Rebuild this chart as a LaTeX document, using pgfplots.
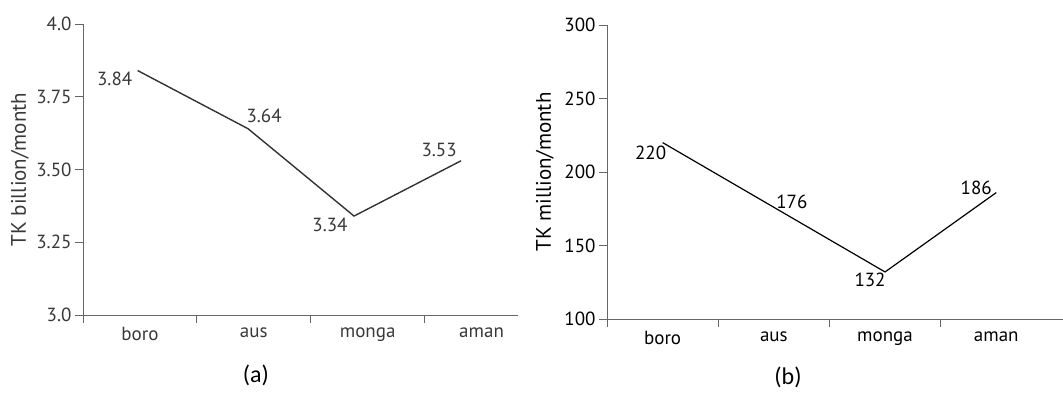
\documentclass[border=0pt]{standalone}
\usepackage{pgfplots}
\pgfplotsset{compat=1.18}
\usepackage{fontspec}
\setmainfont{PT Sans}
\newfontfamily\capfont{Carlito}
\definecolor{axgray}{HTML}{666666}
\definecolor{linegray}{HTML}{333333}
\definecolor{txtgray}{HTML}{383838}
\begin{document}
\begin{tikzpicture}
\useasboundingbox (0,0) rectangle (1063pt,392pt);
\pgfplotsset{
  common/.style={
    scale only axis,
    clip=false,
    axis lines=left,
    axis line style={-, draw=axgray, line width=0.9pt},
    tick align=outside,
    major tick length=8pt,
    minor tick length=8pt,
    xtick={1,2,3,4},
    xticklabels={boro,aus,monga,aman},
    xtick style={draw=none},
    minor xtick={0.5,1.5,2.5,3.5},
    minor x tick style={draw=axgray, line width=0.9pt},
    ytick style={draw=axgray, line width=0.9pt},
    xmin=0.5,
    tick label style={font=\fontsize{19}{21}\selectfont},
    xticklabel style={yshift=-1pt},
    ylabel style={font=\fontsize{21}{23}\selectfont, anchor=center},
    /pgf/number format/assume math mode=true,
  }
}
\begin{axis}[common,
  at={(83pt,77pt)}, anchor=south west,
  width=435pt, height=291pt,
  xmax=4.32,
  ymin=3.0, ymax=4.0,
  ytick={3.0,3.25,3.5,3.75,4.0},
  yticklabels={3.0,3.25,3.50,3.75,4.0},
  tick label style={text=txtgray},
  ylabel={TK billion/month},
  ylabel style={text=txtgray, at={(axis description cs:-0.145,0.5)}},
]
\addplot[linegray, line width=1.4pt, mark=none] coordinates {
  (0.98,3.84) (1.95,3.64) (2.88,3.34) (3.82,3.53)
};
\begin{scope}[every node/.style={text=txtgray, font=\fontsize{19}{21}\selectfont}]
\node[xshift=-23pt, yshift=-8pt] at (axis cs:0.98,3.84) {3.84};
\node[xshift=16pt, yshift=13pt] at (axis cs:1.95,3.64) {3.64};
\node[xshift=-24pt, yshift=-9pt] at (axis cs:2.88,3.34) {3.34};
\node[xshift=-22pt, yshift=11pt] at (axis cs:3.82,3.53) {3.53};
\end{scope}
\end{axis}

\begin{axis}[common,
  at={(607pt,73pt)}, anchor=south west,
  width=456pt, height=294pt,
  xmax=4.6,
  ymin=100, ymax=300,
  ytick={100,150,200,250,300},
  yticklabels={100,150,200,250,300},
  tick label style={text=black},
  ylabel={TK million/month},
  ylabel style={text=black, at={(axis description cs:-0.136,0.5)}},
]
\addplot[black, line width=1.2pt, mark=none] coordinates {
  (1,220) (2,176) (3,132) (4,186)
};
\begin{scope}[every node/.style={text=black, font=\fontsize{19}{21}\selectfont}]
\node[xshift=-12pt, yshift=-10pt] at (axis cs:1,220) {220};
\node[xshift=18pt, yshift=5pt] at (axis cs:2,176) {176};
\node[xshift=-15pt, yshift=-8pt] at (axis cs:3,132) {132};
\node[xshift=-20pt, yshift=5pt] at (axis cs:4,186) {186};
\end{scope}
\end{axis}

\node[font=\capfont\fontsize{24}{26}\selectfont, text=black] at (256pt,17pt) {(a)};
\node[font=\capfont\fontsize{24}{26}\selectfont, text=black] at (788pt,15pt) {(b)};
\end{tikzpicture}
\end{document}
